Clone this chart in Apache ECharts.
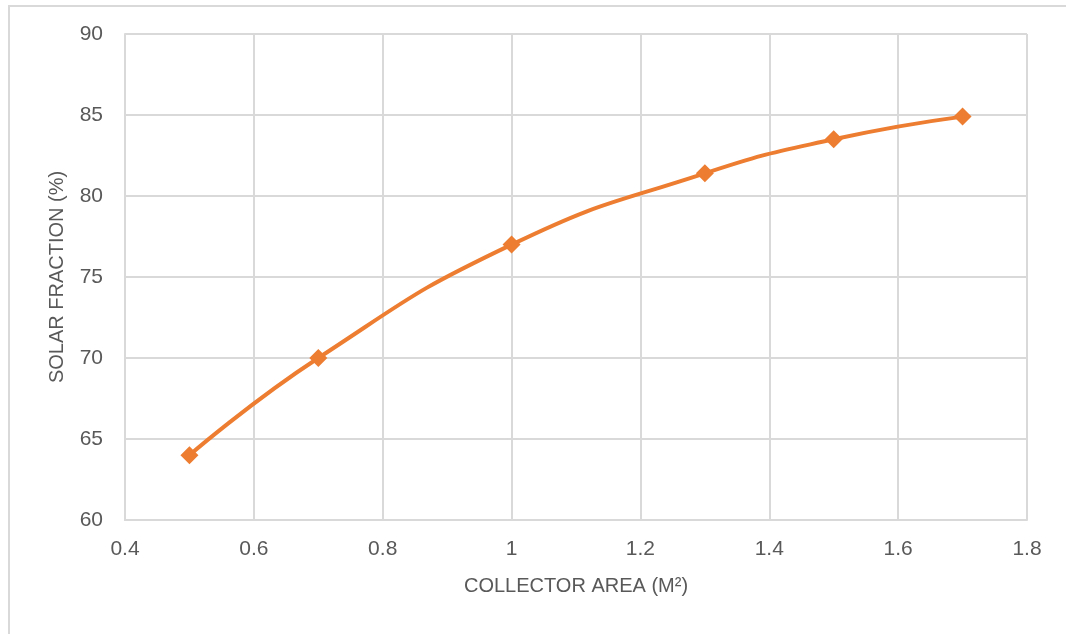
<!DOCTYPE html>
<html>
<head>
<meta charset="utf-8">
<script src="https://cdn.jsdelivr.net/npm/echarts@6/dist/echarts.min.js"></script>
<style>
  html, body { margin: 0; padding: 0; background: #fff; }
  #frame { position: absolute; left: 8px; top: 5px; width: 1100px; height: 700px;
           border-left: 2px solid #d9d9d9; border-top: 2px solid #d9d9d9; box-sizing: border-box; }
  #chart { position: absolute; left: 0; top: 0; width: 1066px; height: 634px; }
</style>
</head>
<body>
<div id="frame"></div>
<div id="chart"></div>
<script>
// Collector area (m²) against solar fraction (%)
const collectorArea = [0.5, 0.7, 1.0, 1.3, 1.5, 1.7];
const solarFraction = [64, 70, 77, 81.4, 83.5, 84.9];

const xAxisTitle = 'COLLECTOR AREA (M²)';
const yAxisTitle = 'SOLAR FRACTION (%)';

const textColor = '#595959';
const gridColor = '#d9d9d9';
const lineColor = '#ED7D31';
const fontFamily = '"Liberation Sans", Arial, sans-serif';

const chart = echarts.init(document.getElementById('chart'), null, { renderer: 'canvas' });

chart.setOption({
  animation: false,
  backgroundColor: 'transparent',
  grid: { left: 125, right: 39, top: 34, bottom: 114, containLabel: false },
  xAxis: {
    type: 'value',
    min: 0.4, max: 1.8, interval: 0.2,
    name: xAxisTitle,
    nameLocation: 'middle',
    nameGap: 56,
    nameTextStyle: { color: textColor, fontSize: 20, fontFamily: fontFamily },
    axisLine: { show: true, lineStyle: { color: gridColor, width: 2 } },
    axisTick: { show: false },
    axisLabel: {
      color: textColor, fontSize: 21, fontFamily: fontFamily, margin: 19,
      formatter: v => String(Math.round(v * 10) / 10)
    },
    splitLine: { show: true, lineStyle: { color: gridColor, width: 2 } }
  },
  yAxis: {
    type: 'value',
    min: 60, max: 90, interval: 5,
    name: yAxisTitle,
    nameLocation: 'middle',
    nameGap: 58,
    nameTextStyle: { color: textColor, fontSize: 20, fontFamily: fontFamily },
    axisLine: { show: true, lineStyle: { color: gridColor, width: 2 } },
    axisTick: { show: false },
    axisLabel: { color: textColor, fontSize: 21, fontFamily: fontFamily, margin: 22 },
    splitLine: { show: true, lineStyle: { color: gridColor, width: 2 } }
  },
  series: [{
    type: 'line',
    data: collectorArea.map((x, i) => [x, solarFraction[i]]),
    smooth: true,
    symbol: 'diamond',
    symbolSize: 18,
    showAllSymbol: true,
    lineStyle: { color: lineColor, width: 4 },
    itemStyle: { color: lineColor, borderWidth: 0 }
  }]
});
</script>
</body>
</html>
